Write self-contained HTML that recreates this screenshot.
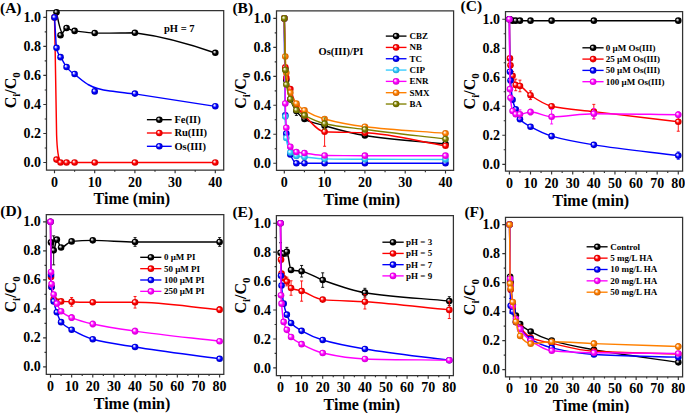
<!DOCTYPE html>
<html><head><meta charset="utf-8"><style>
html,body{margin:0;padding:0;background:#fff;width:685px;height:413px;overflow:hidden}
svg{display:block}
text{font-family:"Liberation Serif", serif;font-weight:bold;fill:#000}
.tl{font-size:14px}
.at{font-size:16px}
.sub{font-size:11px}
.pl{font-size:15.5px}
.lg{font-size:9px}
</style></head><body>
<svg width="685" height="413" viewBox="0 0 685 413">
<defs><radialGradient id="gk" cx="0.5" cy="0.5" r="0.5" fx="0.33" fy="0.32"><stop offset="0" stop-color="#d8d8d8"/><stop offset="0.15" stop-color="#d8d8d8"/><stop offset="0.55" stop-color="#000000"/><stop offset="1" stop-color="#000000"/></radialGradient><radialGradient id="gr" cx="0.5" cy="0.5" r="0.5" fx="0.33" fy="0.32"><stop offset="0" stop-color="#ffe0e0"/><stop offset="0.15" stop-color="#ffe0e0"/><stop offset="0.55" stop-color="#ff0000"/><stop offset="1" stop-color="#d00000"/></radialGradient><radialGradient id="gb" cx="0.5" cy="0.5" r="0.5" fx="0.33" fy="0.32"><stop offset="0" stop-color="#e0e0ff"/><stop offset="0.15" stop-color="#e0e0ff"/><stop offset="0.55" stop-color="#0000ff"/><stop offset="1" stop-color="#0000c0"/></radialGradient><radialGradient id="gc" cx="0.5" cy="0.5" r="0.5" fx="0.33" fy="0.32"><stop offset="0" stop-color="#e8f8ff"/><stop offset="0.15" stop-color="#e8f8ff"/><stop offset="0.55" stop-color="#33ccff"/><stop offset="1" stop-color="#20a0d0"/></radialGradient><radialGradient id="gm" cx="0.5" cy="0.5" r="0.5" fx="0.33" fy="0.32"><stop offset="0" stop-color="#ffe0ff"/><stop offset="0.15" stop-color="#ffe0ff"/><stop offset="0.55" stop-color="#ff00ff"/><stop offset="1" stop-color="#d000d0"/></radialGradient><radialGradient id="go" cx="0.5" cy="0.5" r="0.5" fx="0.33" fy="0.32"><stop offset="0" stop-color="#fff0e0"/><stop offset="0.15" stop-color="#fff0e0"/><stop offset="0.55" stop-color="#ff8000"/><stop offset="1" stop-color="#d06000"/></radialGradient><radialGradient id="gol" cx="0.5" cy="0.5" r="0.5" fx="0.33" fy="0.32"><stop offset="0" stop-color="#f0f0d0"/><stop offset="0.15" stop-color="#f0f0d0"/><stop offset="0.55" stop-color="#808000"/><stop offset="1" stop-color="#606000"/></radialGradient></defs>
<path d="M46.5,10.55H223.7V170H46.5Z" fill="none" stroke="#333" stroke-width="1.25"/>
<path d="M43.3,162.5H46.5M44.7,147.99H46.5M43.3,133.48H46.5M44.7,118.97H46.5M43.3,104.46H46.5M44.7,89.95H46.5M43.3,75.44H46.5M44.7,60.93H46.5M43.3,46.42H46.5M44.7,31.91H46.5M43.3,17.4H46.5M54.5,170V173.2M74.6,170V171.8M94.7,170V173.2M114.8,170V171.8M134.9,170V173.2M155,170V171.8M175.1,170V173.2M195.2,170V171.8M215.3,170V173.2" stroke="#333" stroke-width="1.15" fill="none"/>
<text x="41" y="167.1" text-anchor="end" class="tl">0.0</text>
<text x="41" y="138.08" text-anchor="end" class="tl">0.2</text>
<text x="41" y="109.06" text-anchor="end" class="tl">0.4</text>
<text x="41" y="80.04" text-anchor="end" class="tl">0.6</text>
<text x="41" y="51.02" text-anchor="end" class="tl">0.8</text>
<text x="41" y="22" text-anchor="end" class="tl">1.0</text>
<text x="54.5" y="186.6" text-anchor="middle" class="tl">0</text>
<text x="94.7" y="186.6" text-anchor="middle" class="tl">10</text>
<text x="134.9" y="186.6" text-anchor="middle" class="tl">20</text>
<text x="175.1" y="186.6" text-anchor="middle" class="tl">30</text>
<text x="215.3" y="186.6" text-anchor="middle" class="tl">40</text>
<text x="131.9" y="203.9" text-anchor="middle" class="at">Time (min)</text>
<text transform="translate(16.3,90.28) rotate(-90)" text-anchor="middle" class="at">C<tspan class="sub" dy="3.5">i</tspan><tspan dy="-3.5">/C</tspan><tspan class="sub" dy="3.5">0</tspan></text>
<text x="0" y="13" class="pl">(A)</text>
<path d="M276.5,10.9H453.6V170.4H276.5Z" fill="none" stroke="#333" stroke-width="1.25"/>
<path d="M273.3,163.2H276.5M274.7,148.72H276.5M273.3,134.24H276.5M274.7,119.76H276.5M273.3,105.28H276.5M274.7,90.8H276.5M273.3,76.32H276.5M274.7,61.84H276.5M273.3,47.36H276.5M274.7,32.88H276.5M273.3,18.4H276.5M284.3,170.4V173.6M304.45,170.4V172.2M324.6,170.4V173.6M344.75,170.4V172.2M364.9,170.4V173.6M385.05,170.4V172.2M405.2,170.4V173.6M425.35,170.4V172.2M445.5,170.4V173.6" stroke="#333" stroke-width="1.15" fill="none"/>
<text x="271" y="167.8" text-anchor="end" class="tl">0.0</text>
<text x="271" y="138.84" text-anchor="end" class="tl">0.2</text>
<text x="271" y="109.88" text-anchor="end" class="tl">0.4</text>
<text x="271" y="80.92" text-anchor="end" class="tl">0.6</text>
<text x="271" y="51.96" text-anchor="end" class="tl">0.8</text>
<text x="271" y="23" text-anchor="end" class="tl">1.0</text>
<text x="284.3" y="187" text-anchor="middle" class="tl">0</text>
<text x="324.6" y="187" text-anchor="middle" class="tl">10</text>
<text x="364.9" y="187" text-anchor="middle" class="tl">20</text>
<text x="405.2" y="187" text-anchor="middle" class="tl">30</text>
<text x="445.5" y="187" text-anchor="middle" class="tl">40</text>
<text x="361.9" y="205.1" text-anchor="middle" class="at">Time (min)</text>
<text transform="translate(246.3,90.65) rotate(-90)" text-anchor="middle" class="at">C<tspan class="sub" dy="3.5">i</tspan><tspan dy="-3.5">/C</tspan><tspan class="sub" dy="3.5">0</tspan></text>
<text x="232.4" y="13" class="pl">(B)</text>
<path d="M505.5,11.5H682.6V171.2H505.5Z" fill="none" stroke="#333" stroke-width="1.25"/>
<path d="M502.3,164.3H505.5M503.7,149.79H505.5M502.3,135.28H505.5M503.7,120.77H505.5M502.3,106.26H505.5M503.7,91.75H505.5M502.3,77.24H505.5M503.7,62.73H505.5M502.3,48.22H505.5M503.7,33.71H505.5M502.3,19.2H505.5M509.4,171.2V174.4M519.95,171.2V173M530.51,171.2V174.4M541.06,171.2V173M551.62,171.2V174.4M562.17,171.2V173M572.73,171.2V174.4M583.28,171.2V173M593.84,171.2V174.4M604.39,171.2V173M614.95,171.2V174.4M625.5,171.2V173M636.06,171.2V174.4M646.62,171.2V173M657.17,171.2V174.4M667.73,171.2V173M678.28,171.2V174.4" stroke="#333" stroke-width="1.15" fill="none"/>
<text x="500" y="168.9" text-anchor="end" class="tl">0.0</text>
<text x="500" y="139.88" text-anchor="end" class="tl">0.2</text>
<text x="500" y="110.86" text-anchor="end" class="tl">0.4</text>
<text x="500" y="81.84" text-anchor="end" class="tl">0.6</text>
<text x="500" y="52.82" text-anchor="end" class="tl">0.8</text>
<text x="500" y="23.8" text-anchor="end" class="tl">1.0</text>
<text x="509.4" y="187.8" text-anchor="middle" class="tl">0</text>
<text x="530.51" y="187.8" text-anchor="middle" class="tl">10</text>
<text x="551.62" y="187.8" text-anchor="middle" class="tl">20</text>
<text x="572.73" y="187.8" text-anchor="middle" class="tl">30</text>
<text x="593.84" y="187.8" text-anchor="middle" class="tl">40</text>
<text x="614.95" y="187.8" text-anchor="middle" class="tl">50</text>
<text x="636.06" y="187.8" text-anchor="middle" class="tl">60</text>
<text x="657.17" y="187.8" text-anchor="middle" class="tl">70</text>
<text x="678.28" y="187.8" text-anchor="middle" class="tl">80</text>
<text x="590.84" y="205.7" text-anchor="middle" class="at">Time (min)</text>
<text transform="translate(475.3,91.35) rotate(-90)" text-anchor="middle" class="at">C<tspan class="sub" dy="3.5">i</tspan><tspan dy="-3.5">/C</tspan><tspan class="sub" dy="3.5">0</tspan></text>
<text x="460.6" y="11.1" class="pl">(C)</text>
<path d="M46.3,214.5H223.8V374.3H46.3Z" fill="none" stroke="#333" stroke-width="1.25"/>
<path d="M43.1,366.8H46.3M44.5,352.3H46.3M43.1,337.8H46.3M44.5,323.3H46.3M43.1,308.8H46.3M44.5,294.3H46.3M43.1,279.8H46.3M44.5,265.3H46.3M43.1,250.8H46.3M44.5,236.3H46.3M43.1,221.8H46.3M50.5,374.3V377.5M61.07,374.3V376.1M71.64,374.3V377.5M82.21,374.3V376.1M92.78,374.3V377.5M103.35,374.3V376.1M113.92,374.3V377.5M124.49,374.3V376.1M135.06,374.3V377.5M145.63,374.3V376.1M156.2,374.3V377.5M166.77,374.3V376.1M177.34,374.3V377.5M187.91,374.3V376.1M198.48,374.3V377.5M209.05,374.3V376.1M219.62,374.3V377.5" stroke="#333" stroke-width="1.15" fill="none"/>
<text x="40.8" y="371.4" text-anchor="end" class="tl">0.0</text>
<text x="40.8" y="342.4" text-anchor="end" class="tl">0.2</text>
<text x="40.8" y="313.4" text-anchor="end" class="tl">0.4</text>
<text x="40.8" y="284.4" text-anchor="end" class="tl">0.6</text>
<text x="40.8" y="255.4" text-anchor="end" class="tl">0.8</text>
<text x="40.8" y="226.4" text-anchor="end" class="tl">1.0</text>
<text x="50.5" y="390.9" text-anchor="middle" class="tl">0</text>
<text x="71.64" y="390.9" text-anchor="middle" class="tl">10</text>
<text x="92.78" y="390.9" text-anchor="middle" class="tl">20</text>
<text x="113.92" y="390.9" text-anchor="middle" class="tl">30</text>
<text x="135.06" y="390.9" text-anchor="middle" class="tl">40</text>
<text x="156.2" y="390.9" text-anchor="middle" class="tl">50</text>
<text x="177.34" y="390.9" text-anchor="middle" class="tl">60</text>
<text x="198.48" y="390.9" text-anchor="middle" class="tl">70</text>
<text x="219.62" y="390.9" text-anchor="middle" class="tl">80</text>
<text x="132.06" y="408.7" text-anchor="middle" class="at">Time (min)</text>
<text transform="translate(16.1,294.4) rotate(-90)" text-anchor="middle" class="at">C<tspan class="sub" dy="3.5">i</tspan><tspan dy="-3.5">/C</tspan><tspan class="sub" dy="3.5">0</tspan></text>
<text x="0.3" y="215.8" class="pl">(D)</text>
<path d="M276.4,215.6H453.4V375.5H276.4Z" fill="none" stroke="#333" stroke-width="1.25"/>
<path d="M273.2,367.9H276.4M274.6,353.43H276.4M273.2,338.96H276.4M274.6,324.49H276.4M273.2,310.02H276.4M274.6,295.55H276.4M273.2,281.08H276.4M274.6,266.61H276.4M273.2,252.14H276.4M274.6,237.67H276.4M273.2,223.2H276.4M280.5,375.5V378.7M291.05,375.5V377.3M301.6,375.5V378.7M312.15,375.5V377.3M322.7,375.5V378.7M333.25,375.5V377.3M343.8,375.5V378.7M354.35,375.5V377.3M364.9,375.5V378.7M375.45,375.5V377.3M386,375.5V378.7M396.55,375.5V377.3M407.1,375.5V378.7M417.65,375.5V377.3M428.2,375.5V378.7M438.75,375.5V377.3M449.3,375.5V378.7" stroke="#333" stroke-width="1.15" fill="none"/>
<text x="270.9" y="372.5" text-anchor="end" class="tl">0.0</text>
<text x="270.9" y="343.56" text-anchor="end" class="tl">0.2</text>
<text x="270.9" y="314.62" text-anchor="end" class="tl">0.4</text>
<text x="270.9" y="285.68" text-anchor="end" class="tl">0.6</text>
<text x="270.9" y="256.74" text-anchor="end" class="tl">0.8</text>
<text x="270.9" y="227.8" text-anchor="end" class="tl">1.0</text>
<text x="280.5" y="392.1" text-anchor="middle" class="tl">0</text>
<text x="301.6" y="392.1" text-anchor="middle" class="tl">10</text>
<text x="322.7" y="392.1" text-anchor="middle" class="tl">20</text>
<text x="343.8" y="392.1" text-anchor="middle" class="tl">30</text>
<text x="364.9" y="392.1" text-anchor="middle" class="tl">40</text>
<text x="386" y="392.1" text-anchor="middle" class="tl">50</text>
<text x="407.1" y="392.1" text-anchor="middle" class="tl">60</text>
<text x="428.2" y="392.1" text-anchor="middle" class="tl">70</text>
<text x="449.3" y="392.1" text-anchor="middle" class="tl">80</text>
<text x="361.9" y="410.4" text-anchor="middle" class="at">Time (min)</text>
<text transform="translate(246.2,295.55) rotate(-90)" text-anchor="middle" class="at">C<tspan class="sub" dy="3.5">i</tspan><tspan dy="-3.5">/C</tspan><tspan class="sub" dy="3.5">0</tspan></text>
<text x="232.4" y="216.6" class="pl">(E)</text>
<path d="M505.5,217.4H682.6V376.8H505.5Z" fill="none" stroke="#333" stroke-width="1.25"/>
<path d="M502.3,369.6H505.5M503.7,355.1H505.5M502.3,340.6H505.5M503.7,326.1H505.5M502.3,311.6H505.5M503.7,297.1H505.5M502.3,282.6H505.5M503.7,268.1H505.5M502.3,253.6H505.5M503.7,239.1H505.5M502.3,224.6H505.5M509.6,376.8V380M520.14,376.8V378.6M530.69,376.8V380M541.24,376.8V378.6M551.78,376.8V380M562.33,376.8V378.6M572.87,376.8V380M583.41,376.8V378.6M593.96,376.8V380M604.5,376.8V378.6M615.05,376.8V380M625.6,376.8V378.6M636.14,376.8V380M646.69,376.8V378.6M657.23,376.8V380M667.78,376.8V378.6M678.32,376.8V380" stroke="#333" stroke-width="1.15" fill="none"/>
<text x="500" y="374.2" text-anchor="end" class="tl">0.0</text>
<text x="500" y="345.2" text-anchor="end" class="tl">0.2</text>
<text x="500" y="316.2" text-anchor="end" class="tl">0.4</text>
<text x="500" y="287.2" text-anchor="end" class="tl">0.6</text>
<text x="500" y="258.2" text-anchor="end" class="tl">0.8</text>
<text x="500" y="229.2" text-anchor="end" class="tl">1.0</text>
<text x="509.6" y="393.4" text-anchor="middle" class="tl">0</text>
<text x="530.69" y="393.4" text-anchor="middle" class="tl">10</text>
<text x="551.78" y="393.4" text-anchor="middle" class="tl">20</text>
<text x="572.87" y="393.4" text-anchor="middle" class="tl">30</text>
<text x="593.96" y="393.4" text-anchor="middle" class="tl">40</text>
<text x="615.05" y="393.4" text-anchor="middle" class="tl">50</text>
<text x="636.14" y="393.4" text-anchor="middle" class="tl">60</text>
<text x="657.23" y="393.4" text-anchor="middle" class="tl">70</text>
<text x="678.32" y="393.4" text-anchor="middle" class="tl">80</text>
<text x="590.96" y="410.7" text-anchor="middle" class="at">Time (min)</text>
<text transform="translate(475.3,297.1) rotate(-90)" text-anchor="middle" class="at">C<tspan class="sub" dy="3.5">i</tspan><tspan dy="-3.5">/C</tspan><tspan class="sub" dy="3.5">0</tspan></text>
<text x="464.4" y="216.6" class="pl">(F)</text>
<path d="M146.9,119.7H171.7" stroke="#000000" stroke-width="1.35"/>
<circle cx="159.3" cy="119.7" r="3.3" fill="url(#gk)"/>
<text x="174.4" y="123.17" style="font-size:10.5px" class="lg">Fe(II)</text>
<path d="M146.9,133H171.7" stroke="#ff0000" stroke-width="1.35"/>
<circle cx="159.3" cy="133" r="3.3" fill="url(#gr)"/>
<text x="174.4" y="136.47" style="font-size:10.5px" class="lg">Ru(III)</text>
<path d="M146.9,146.3H171.7" stroke="#0000ff" stroke-width="1.35"/>
<circle cx="159.3" cy="146.3" r="3.3" fill="url(#gb)"/>
<text x="174.4" y="149.77" style="font-size:10.5px" class="lg">Os(III)</text>
<path d="M385.8,36.1H406.5" stroke="#000000" stroke-width="1.35"/>
<circle cx="396.1" cy="36.1" r="3.3" fill="url(#gk)"/>
<text x="409.4" y="39.07" style="font-size:9px" class="lg">CBZ</text>
<path d="M385.8,47.42H406.5" stroke="#ff0000" stroke-width="1.35"/>
<circle cx="396.1" cy="47.42" r="3.3" fill="url(#gr)"/>
<text x="409.4" y="50.39" style="font-size:9px" class="lg">NB</text>
<path d="M385.8,58.74H406.5" stroke="#0000ff" stroke-width="1.35"/>
<circle cx="396.1" cy="58.74" r="3.3" fill="url(#gb)"/>
<text x="409.4" y="61.71" style="font-size:9px" class="lg">TC</text>
<path d="M385.8,70.06H406.5" stroke="#33ccff" stroke-width="1.35"/>
<circle cx="396.1" cy="70.06" r="3.3" fill="url(#gc)"/>
<text x="409.4" y="73.03" style="font-size:9px" class="lg">CIP</text>
<path d="M385.8,81.38H406.5" stroke="#ff00ff" stroke-width="1.35"/>
<circle cx="396.1" cy="81.38" r="3.3" fill="url(#gm)"/>
<text x="409.4" y="84.35" style="font-size:9px" class="lg">ENR</text>
<path d="M385.8,92.7H406.5" stroke="#ff8000" stroke-width="1.35"/>
<circle cx="396.1" cy="92.7" r="3.3" fill="url(#go)"/>
<text x="409.4" y="95.67" style="font-size:9px" class="lg">SMX</text>
<path d="M385.8,104.02H406.5" stroke="#808000" stroke-width="1.35"/>
<circle cx="396.1" cy="104.02" r="3.3" fill="url(#gol)"/>
<text x="409.4" y="106.99" style="font-size:9px" class="lg">BA</text>
<path d="M582.4,47.8H603.6" stroke="#000000" stroke-width="1.35"/>
<circle cx="593.1" cy="47.8" r="3.3" fill="url(#gk)"/>
<text x="605.8" y="50.77" style="font-size:9px" class="lg">0 µM Os(III)</text>
<path d="M582.4,59.1H603.6" stroke="#ff0000" stroke-width="1.35"/>
<circle cx="593.1" cy="59.1" r="3.3" fill="url(#gr)"/>
<text x="605.8" y="62.07" style="font-size:9px" class="lg">25 µM Os(III)</text>
<path d="M582.4,70.4H603.6" stroke="#0000ff" stroke-width="1.35"/>
<circle cx="593.1" cy="70.4" r="3.3" fill="url(#gb)"/>
<text x="605.8" y="73.37" style="font-size:9px" class="lg">50 µM Os(III)</text>
<path d="M582.4,81.7H603.6" stroke="#ff00ff" stroke-width="1.35"/>
<circle cx="593.1" cy="81.7" r="3.3" fill="url(#gm)"/>
<text x="605.8" y="84.67" style="font-size:9px" class="lg">100 µM Os(III)</text>
<path d="M140.2,257.3H161.4" stroke="#000000" stroke-width="1.35"/>
<circle cx="150.9" cy="257.3" r="3.3" fill="url(#gk)"/>
<text x="163.9" y="260.27" style="font-size:9px" class="lg">0 µM PI</text>
<path d="M140.2,268.65H161.4" stroke="#ff0000" stroke-width="1.35"/>
<circle cx="150.9" cy="268.65" r="3.3" fill="url(#gr)"/>
<text x="163.9" y="271.62" style="font-size:9px" class="lg">50 µM PI</text>
<path d="M140.2,280H161.4" stroke="#0000ff" stroke-width="1.35"/>
<circle cx="150.9" cy="280" r="3.3" fill="url(#gb)"/>
<text x="163.9" y="282.97" style="font-size:9px" class="lg">100 µM PI</text>
<path d="M140.2,291.35H161.4" stroke="#ff00ff" stroke-width="1.35"/>
<circle cx="150.9" cy="291.35" r="3.3" fill="url(#gm)"/>
<text x="163.9" y="294.32" style="font-size:9px" class="lg">250 µM PI</text>
<path d="M382.4,242.2H403.7" stroke="#000000" stroke-width="1.35"/>
<circle cx="393" cy="242.2" r="3.3" fill="url(#gk)"/>
<text x="406" y="245.17" style="font-size:9px" class="lg">pH = 3</text>
<path d="M382.4,253.43H403.7" stroke="#ff0000" stroke-width="1.35"/>
<circle cx="393" cy="253.43" r="3.3" fill="url(#gr)"/>
<text x="406" y="256.4" style="font-size:9px" class="lg">pH = 5</text>
<path d="M382.4,264.66H403.7" stroke="#0000ff" stroke-width="1.35"/>
<circle cx="393" cy="264.66" r="3.3" fill="url(#gb)"/>
<text x="406" y="267.63" style="font-size:9px" class="lg">pH = 7</text>
<path d="M382.4,275.89H403.7" stroke="#ff00ff" stroke-width="1.35"/>
<circle cx="393" cy="275.89" r="3.3" fill="url(#gm)"/>
<text x="406" y="278.86" style="font-size:9px" class="lg">pH = 9</text>
<path d="M586.6,246.8H607.6" stroke="#000000" stroke-width="1.35"/>
<circle cx="597.3" cy="246.8" r="3.3" fill="url(#gk)"/>
<text x="610.2" y="249.77" style="font-size:9px" class="lg">Control</text>
<path d="M586.6,258.15H607.6" stroke="#ff0000" stroke-width="1.35"/>
<circle cx="597.3" cy="258.15" r="3.3" fill="url(#gr)"/>
<text x="610.2" y="261.12" style="font-size:9px" class="lg">5 mg/L HA</text>
<path d="M586.6,269.5H607.6" stroke="#0000ff" stroke-width="1.35"/>
<circle cx="597.3" cy="269.5" r="3.3" fill="url(#gb)"/>
<text x="610.2" y="272.47" style="font-size:9px" class="lg">10 mg/L HA</text>
<path d="M586.6,280.85H607.6" stroke="#ff00ff" stroke-width="1.35"/>
<circle cx="597.3" cy="280.85" r="3.3" fill="url(#gm)"/>
<text x="610.2" y="283.82" style="font-size:9px" class="lg">20 mg/L HA</text>
<path d="M586.6,292.2H607.6" stroke="#ff8000" stroke-width="1.35"/>
<circle cx="597.3" cy="292.2" r="3.3" fill="url(#go)"/>
<text x="610.2" y="295.17" style="font-size:9px" class="lg">50 mg/L HA</text>
<text x="164" y="31.5" class="lg" style="font-size:10.5px">pH = 7</text>
<text x="318.5" y="55.1" class="lg" style="font-size:10.5px">Os(III)/PI</text>
<path d="M56.5,12.4C58.5,22 60,31 62,32.5C63.5,33.5 64.5,28.5 66.5,28C70,29 72,30.8 74.5,30.9C80,31.5 88,32.9 94.5,33.1C108,33.3 122,32.8 134.5,32.7C160,36 190,44 214.5,52.8" fill="none" stroke="#000000" stroke-width="1.45"/>
<circle cx="56.51" cy="12.32" r="3.3" fill="url(#gk)"/>
<circle cx="60.53" cy="35.25" r="3.3" fill="url(#gk)"/>
<circle cx="66.56" cy="27.99" r="3.3" fill="url(#gk)"/>
<circle cx="74.6" cy="30.89" r="3.3" fill="url(#gk)"/>
<circle cx="94.7" cy="33.07" r="3.3" fill="url(#gk)"/>
<circle cx="134.9" cy="32.78" r="3.3" fill="url(#gk)"/>
<circle cx="215.3" cy="52.8" r="3.3" fill="url(#gk)"/>
<path d="M54.5,17.4C55.5,60 56,110 56.6,135C57.1,150 58,158 60.5,162.4L215.3,162.4" fill="none" stroke="#ff0000" stroke-width="1.45"/>
<circle cx="54.5" cy="17.4" r="3.3" fill="url(#gr)"/>
<circle cx="56.51" cy="159.6" r="3.3" fill="url(#gr)"/>
<circle cx="60.53" cy="162.5" r="3.3" fill="url(#gr)"/>
<circle cx="66.56" cy="162.5" r="3.3" fill="url(#gr)"/>
<circle cx="74.6" cy="162.5" r="3.3" fill="url(#gr)"/>
<circle cx="94.7" cy="162.5" r="3.3" fill="url(#gr)"/>
<circle cx="134.9" cy="162.5" r="3.3" fill="url(#gr)"/>
<circle cx="215.3" cy="162.5" r="3.3" fill="url(#gr)"/>
<path d="M54.5,17.4L56.3,47.6C57.5,52 58.8,55.5 60.5,57.2C62.5,60 64.5,64 66.5,67.1C69,70 72,73 74.5,74C79,78 84,82 88,84.5C94,88 100,89.8 110,91C120,92.3 128,93 134.7,93.9L215.4,106.4" fill="none" stroke="#0000ff" stroke-width="1.45"/>
<circle cx="54.5" cy="17.4" r="3.3" fill="url(#gb)"/>
<circle cx="56.51" cy="47.87" r="3.3" fill="url(#gb)"/>
<circle cx="60.53" cy="57.16" r="3.3" fill="url(#gb)"/>
<circle cx="66.56" cy="67.02" r="3.3" fill="url(#gb)"/>
<circle cx="74.6" cy="73.99" r="3.3" fill="url(#gb)"/>
<circle cx="94.7" cy="91.4" r="3.3" fill="url(#gb)"/>
<circle cx="134.9" cy="93.58" r="3.3" fill="url(#gb)"/>
<circle cx="215.3" cy="106.2" r="3.3" fill="url(#gb)"/>
<path d="M284.3,18.4C284.64,35.29 284.97,63.12 285.31,69.08C285.64,75.04 285.98,77.51 286.31,79.94C287.66,89.67 289,95.69 290.35,99.49C292.36,105.19 294.38,108.4 296.39,111.07C299.08,114.63 301.76,117.6 304.45,119.04C311.17,122.62 317.88,123.78 324.6,125.7C338.03,129.54 351.47,133.47 364.9,135.54C391.77,139.7 418.63,141.24 445.5,144.09" fill="none" stroke="#000000" stroke-width="1.45"/>
<path d="M296.39,106.73V115.42M294.89,106.73H297.89M294.89,115.42H297.89" fill="none" stroke="#000000" stroke-width="0.9"/>
<circle cx="284.3" cy="18.4" r="3.3" fill="url(#gk)"/>
<circle cx="285.31" cy="69.08" r="3.3" fill="url(#gk)"/>
<circle cx="286.31" cy="79.94" r="3.3" fill="url(#gk)"/>
<circle cx="290.35" cy="99.49" r="3.3" fill="url(#gk)"/>
<circle cx="296.39" cy="111.07" r="3.3" fill="url(#gk)"/>
<circle cx="304.45" cy="119.04" r="3.3" fill="url(#gk)"/>
<circle cx="324.6" cy="125.7" r="3.3" fill="url(#gk)"/>
<circle cx="364.9" cy="135.54" r="3.3" fill="url(#gk)"/>
<circle cx="445.5" cy="144.09" r="3.3" fill="url(#gk)"/>
<path d="M284.3,18.4C284.64,34.71 284.97,61.61 285.31,67.34C285.64,73.07 285.98,76.09 286.31,77.77C287.66,84.46 289,85.37 290.35,89.06C292.36,94.59 294.38,101.77 296.39,105.28C299.08,109.96 301.76,112.68 304.45,115.42C311.17,122.25 317.88,131.41 324.6,131.78C338.03,132.51 351.47,132.25 364.9,132.79C391.77,133.87 418.63,141.38 445.5,145.68" fill="none" stroke="#ff0000" stroke-width="1.45"/>
<path d="M324.6,117.3V146.26M323.1,117.3H326.1M323.1,146.26H326.1" fill="none" stroke="#ff0000" stroke-width="0.9"/>
<circle cx="284.3" cy="18.4" r="3.3" fill="url(#gr)"/>
<circle cx="285.31" cy="67.34" r="3.3" fill="url(#gr)"/>
<circle cx="286.31" cy="77.77" r="3.3" fill="url(#gr)"/>
<circle cx="290.35" cy="89.06" r="3.3" fill="url(#gr)"/>
<circle cx="296.39" cy="105.28" r="3.3" fill="url(#gr)"/>
<circle cx="304.45" cy="115.42" r="3.3" fill="url(#gr)"/>
<circle cx="324.6" cy="131.78" r="3.3" fill="url(#gr)"/>
<circle cx="364.9" cy="132.79" r="3.3" fill="url(#gr)"/>
<circle cx="445.5" cy="145.68" r="3.3" fill="url(#gr)"/>
<path d="M284.3,18.4C284.64,50.74 284.97,105.18 285.31,115.42C285.64,125.65 285.98,130.62 286.31,133.66C287.66,145.82 289,151.37 290.35,154.51C292.36,159.22 294.38,163.2 296.39,163.2C299.08,163.2 301.76,163.2 304.45,163.2C311.17,163.2 317.88,163.2 324.6,163.2C338.03,163.2 351.47,163.2 364.9,163.2C391.77,163.2 418.63,163.2 445.5,163.2" fill="none" stroke="#0000ff" stroke-width="1.45"/>
<circle cx="284.3" cy="18.4" r="3.3" fill="url(#gb)"/>
<circle cx="285.31" cy="115.42" r="3.3" fill="url(#gb)"/>
<circle cx="286.31" cy="133.66" r="3.3" fill="url(#gb)"/>
<circle cx="290.35" cy="154.51" r="3.3" fill="url(#gb)"/>
<circle cx="296.39" cy="163.2" r="3.3" fill="url(#gb)"/>
<circle cx="304.45" cy="163.2" r="3.3" fill="url(#gb)"/>
<circle cx="324.6" cy="163.2" r="3.3" fill="url(#gb)"/>
<circle cx="364.9" cy="163.2" r="3.3" fill="url(#gb)"/>
<circle cx="445.5" cy="163.2" r="3.3" fill="url(#gb)"/>
<path d="M284.3,18.4C284.64,51.12 284.97,104.85 285.31,116.57C285.64,128.3 285.98,135.6 286.31,138C287.66,147.63 289,151.09 290.35,152.48C292.36,154.58 294.38,155.53 296.39,155.96C299.08,156.53 301.76,156.68 304.45,156.97C311.17,157.71 317.88,158.71 324.6,158.86C338.03,159.14 351.47,159.25 364.9,159.29C391.77,159.38 418.63,159.39 445.5,159.44" fill="none" stroke="#33ccff" stroke-width="1.45"/>
<circle cx="284.3" cy="18.4" r="3.3" fill="url(#gc)"/>
<circle cx="285.31" cy="116.57" r="3.3" fill="url(#gc)"/>
<circle cx="286.31" cy="138" r="3.3" fill="url(#gc)"/>
<circle cx="290.35" cy="152.48" r="3.3" fill="url(#gc)"/>
<circle cx="296.39" cy="155.96" r="3.3" fill="url(#gc)"/>
<circle cx="304.45" cy="156.97" r="3.3" fill="url(#gc)"/>
<circle cx="324.6" cy="158.86" r="3.3" fill="url(#gc)"/>
<circle cx="364.9" cy="159.29" r="3.3" fill="url(#gc)"/>
<circle cx="445.5" cy="159.44" r="3.3" fill="url(#gc)"/>
<path d="M284.3,18.4C284.64,46.78 284.97,90.99 285.31,103.54C285.64,116.1 285.98,124.67 286.31,127.72C287.66,139.94 289,144.59 290.35,146.69C292.36,149.84 294.38,151.59 296.39,152.05C299.08,152.66 301.76,152.73 304.45,153.06C311.17,153.9 317.88,155.47 324.6,155.53C338.03,155.63 351.47,155.67 364.9,155.67C391.77,155.67 418.63,155.67 445.5,155.67" fill="none" stroke="#ff00ff" stroke-width="1.45"/>
<circle cx="284.3" cy="18.4" r="3.3" fill="url(#gm)"/>
<circle cx="285.31" cy="103.54" r="3.3" fill="url(#gm)"/>
<circle cx="286.31" cy="127.72" r="3.3" fill="url(#gm)"/>
<circle cx="290.35" cy="146.69" r="3.3" fill="url(#gm)"/>
<circle cx="296.39" cy="152.05" r="3.3" fill="url(#gm)"/>
<circle cx="304.45" cy="153.06" r="3.3" fill="url(#gm)"/>
<circle cx="324.6" cy="155.53" r="3.3" fill="url(#gm)"/>
<circle cx="364.9" cy="155.67" r="3.3" fill="url(#gm)"/>
<circle cx="445.5" cy="155.67" r="3.3" fill="url(#gm)"/>
<path d="M284.3,18.4C284.64,31.09 284.97,48.9 285.31,56.48C285.64,64.07 285.98,69.85 286.31,72.7C287.66,84.09 289,89.03 290.35,92.68C292.36,98.17 294.38,101.19 296.39,103.54C299.08,106.68 301.76,108.74 304.45,110.35C311.17,114.37 317.88,117.18 324.6,119.04C338.03,122.74 351.47,125.09 364.9,126.71C391.77,129.95 418.63,131.15 445.5,133.37" fill="none" stroke="#ff8000" stroke-width="1.45"/>
<circle cx="284.3" cy="18.4" r="3.3" fill="url(#go)"/>
<circle cx="285.31" cy="56.48" r="3.3" fill="url(#go)"/>
<circle cx="286.31" cy="72.7" r="3.3" fill="url(#go)"/>
<circle cx="290.35" cy="92.68" r="3.3" fill="url(#go)"/>
<circle cx="296.39" cy="103.54" r="3.3" fill="url(#go)"/>
<circle cx="304.45" cy="110.35" r="3.3" fill="url(#go)"/>
<circle cx="324.6" cy="119.04" r="3.3" fill="url(#go)"/>
<circle cx="364.9" cy="126.71" r="3.3" fill="url(#go)"/>
<circle cx="445.5" cy="133.37" r="3.3" fill="url(#go)"/>
<path d="M284.3,18.4C284.64,35.58 284.97,62.35 285.31,69.95C285.64,77.54 285.98,82.37 286.31,84.57C287.66,93.37 289,95.73 290.35,99.05C292.36,104.03 294.38,108.05 296.39,110.06C299.08,112.73 301.76,114.01 304.45,115.42C311.17,118.94 317.88,122.16 324.6,123.67C338.03,126.69 351.47,127.7 364.9,129.46C391.77,132.99 418.63,135.83 445.5,139.02" fill="none" stroke="#808000" stroke-width="1.45"/>
<path d="M324.6,117.88V129.46M323.1,117.88H326.1M323.1,129.46H326.1" fill="none" stroke="#808000" stroke-width="0.9"/>
<circle cx="284.3" cy="18.4" r="3.3" fill="url(#gol)"/>
<circle cx="285.31" cy="69.95" r="3.3" fill="url(#gol)"/>
<circle cx="286.31" cy="84.57" r="3.3" fill="url(#gol)"/>
<circle cx="290.35" cy="99.05" r="3.3" fill="url(#gol)"/>
<circle cx="296.39" cy="110.06" r="3.3" fill="url(#gol)"/>
<circle cx="304.45" cy="115.42" r="3.3" fill="url(#gol)"/>
<circle cx="324.6" cy="123.67" r="3.3" fill="url(#gol)"/>
<circle cx="364.9" cy="129.46" r="3.3" fill="url(#gol)"/>
<circle cx="445.5" cy="139.02" r="3.3" fill="url(#gol)"/>
<path d="M509.4,19.2C509.58,19.2 509.75,19.2 509.93,19.2C510.1,19.2 510.28,19.82 510.46,19.93C511.16,20.37 511.86,20.65 512.57,20.65C513.62,20.65 514.68,20.65 515.73,20.65C517.14,20.65 518.55,20.65 519.95,20.65C523.47,20.65 526.99,20.65 530.51,20.65C537.55,20.65 544.58,20.65 551.62,20.65C565.69,20.65 579.77,20.65 593.84,20.65C621.99,20.65 650.13,20.65 678.28,20.65" fill="none" stroke="#000000" stroke-width="1.45"/>
<circle cx="509.4" cy="19.2" r="3.3" fill="url(#gk)"/>
<circle cx="509.93" cy="19.2" r="3.3" fill="url(#gk)"/>
<circle cx="510.46" cy="19.93" r="3.3" fill="url(#gk)"/>
<circle cx="512.57" cy="20.65" r="3.3" fill="url(#gk)"/>
<circle cx="515.73" cy="20.65" r="3.3" fill="url(#gk)"/>
<circle cx="519.95" cy="20.65" r="3.3" fill="url(#gk)"/>
<circle cx="530.51" cy="20.65" r="3.3" fill="url(#gk)"/>
<circle cx="551.62" cy="20.65" r="3.3" fill="url(#gk)"/>
<circle cx="593.84" cy="20.65" r="3.3" fill="url(#gk)"/>
<circle cx="678.28" cy="20.65" r="3.3" fill="url(#gk)"/>
<path d="M509.4,19.2C509.58,32.26 509.75,54.43 509.93,58.38C510.1,62.32 510.28,63.95 510.46,65.34C511.16,70.91 511.86,73.18 512.57,75.79C513.62,79.71 514.68,84.44 515.73,84.93C517.14,85.58 518.55,85.45 519.95,85.95C523.47,87.18 526.99,92.86 530.51,95.23C537.55,99.98 544.58,104.72 551.62,106.26C565.69,109.35 579.77,109.88 593.84,111.63C621.99,115.12 650.13,118.4 678.28,121.79" fill="none" stroke="#ff0000" stroke-width="1.45"/>
<path d="M512.57,71.44V80.14M511.07,71.44H514.07M511.07,80.14H514.07M515.73,79.13V90.73M514.23,79.13H517.23M514.23,90.73H517.23M519.95,80.14V91.75M518.45,80.14H521.45M518.45,91.75H521.45M530.51,90.88V99.59M529.01,90.88H532.01M529.01,99.59H532.01M593.84,104.37V118.88M592.34,104.37H595.34M592.34,118.88H595.34M678.28,112.35V131.22M676.78,112.35H679.78M676.78,131.22H679.78" fill="none" stroke="#ff0000" stroke-width="0.9"/>
<circle cx="509.4" cy="19.2" r="3.3" fill="url(#gr)"/>
<circle cx="509.93" cy="58.38" r="3.3" fill="url(#gr)"/>
<circle cx="510.46" cy="65.34" r="3.3" fill="url(#gr)"/>
<circle cx="512.57" cy="75.79" r="3.3" fill="url(#gr)"/>
<circle cx="515.73" cy="84.93" r="3.3" fill="url(#gr)"/>
<circle cx="519.95" cy="85.95" r="3.3" fill="url(#gr)"/>
<circle cx="530.51" cy="95.23" r="3.3" fill="url(#gr)"/>
<circle cx="551.62" cy="106.26" r="3.3" fill="url(#gr)"/>
<circle cx="593.84" cy="111.63" r="3.3" fill="url(#gr)"/>
<circle cx="678.28" cy="121.79" r="3.3" fill="url(#gr)"/>
<path d="M509.4,19.2C509.58,36.71 509.75,66.75 509.93,71.73C510.1,76.7 510.28,78.24 510.46,80.43C511.16,89.21 511.86,96.42 512.57,99.73C513.62,104.69 514.68,106.48 515.73,109.31C517.14,113.07 518.55,117.67 519.95,119.32C523.47,123.45 526.99,124.75 530.51,126.72C537.55,130.66 544.58,134.08 551.62,136.15C565.69,140.29 579.77,142.58 593.84,144.86C621.99,149.4 650.13,152.01 678.28,155.59" fill="none" stroke="#0000ff" stroke-width="1.45"/>
<path d="M678.28,151.97V159.22M676.78,151.97H679.78M676.78,159.22H679.78" fill="none" stroke="#0000ff" stroke-width="0.9"/>
<circle cx="509.4" cy="19.2" r="3.3" fill="url(#gb)"/>
<circle cx="509.93" cy="71.73" r="3.3" fill="url(#gb)"/>
<circle cx="510.46" cy="80.43" r="3.3" fill="url(#gb)"/>
<circle cx="512.57" cy="99.73" r="3.3" fill="url(#gb)"/>
<circle cx="515.73" cy="109.31" r="3.3" fill="url(#gb)"/>
<circle cx="519.95" cy="119.32" r="3.3" fill="url(#gb)"/>
<circle cx="530.51" cy="126.72" r="3.3" fill="url(#gb)"/>
<circle cx="551.62" cy="136.15" r="3.3" fill="url(#gb)"/>
<circle cx="593.84" cy="144.86" r="3.3" fill="url(#gb)"/>
<circle cx="678.28" cy="155.59" r="3.3" fill="url(#gb)"/>
<path d="M509.4,19.2C509.58,42.51 509.75,83.98 509.93,89.14C510.1,94.3 510.28,96.09 510.46,97.84C511.16,104.86 511.86,109.76 512.57,111.05C513.62,112.97 514.68,114.24 515.73,114.24C517.14,114.24 518.55,114.24 519.95,114.24C523.47,114.24 526.99,112.06 530.51,112.06C537.55,112.06 544.58,116.71 551.62,116.71C565.69,116.71 579.77,113.66 593.84,113.66C621.99,113.66 650.13,114.34 678.28,114.68" fill="none" stroke="#ff00ff" stroke-width="1.45"/>
<path d="M519.95,109.89V118.59M518.45,109.89H521.45M518.45,118.59H521.45M530.51,109.16V114.97M529.01,109.16H532.01M529.01,114.97H532.01M551.62,109.45V123.96M550.12,109.45H553.12M550.12,123.96H553.12M593.84,108.58V118.74M592.34,108.58H595.34M592.34,118.74H595.34M678.28,111.77V117.58M676.78,111.77H679.78M676.78,117.58H679.78" fill="none" stroke="#ff00ff" stroke-width="0.9"/>
<circle cx="509.4" cy="19.2" r="3.3" fill="url(#gm)"/>
<circle cx="509.93" cy="89.14" r="3.3" fill="url(#gm)"/>
<circle cx="510.46" cy="97.84" r="3.3" fill="url(#gm)"/>
<circle cx="512.57" cy="111.05" r="3.3" fill="url(#gm)"/>
<circle cx="515.73" cy="114.24" r="3.3" fill="url(#gm)"/>
<circle cx="519.95" cy="114.24" r="3.3" fill="url(#gm)"/>
<circle cx="530.51" cy="112.06" r="3.3" fill="url(#gm)"/>
<circle cx="551.62" cy="116.71" r="3.3" fill="url(#gm)"/>
<circle cx="593.84" cy="113.66" r="3.3" fill="url(#gm)"/>
<circle cx="678.28" cy="114.68" r="3.3" fill="url(#gm)"/>
<path d="M51.03,242.39C51.91,245.05 52.79,250.37 53.67,250.37C54.73,250.37 55.78,239.63 56.84,239.63C58.25,239.63 59.66,247.47 61.07,247.47C64.59,247.47 68.12,241.72 71.64,241.38C78.69,240.69 85.73,240.36 92.78,240.36C106.87,240.36 120.97,241.96 135.06,241.96C163.25,241.96 191.43,241.96 219.62,241.96" fill="none" stroke="#000000" stroke-width="1.45"/>
<path d="M53.67,235.87V264.87M52.17,235.87H55.17M52.17,264.87H55.17M135.06,237.61V246.31M133.56,237.61H136.56M133.56,246.31H136.56M219.62,237.61V246.31M218.12,237.61H221.12M218.12,246.31H221.12" fill="none" stroke="#000000" stroke-width="0.9"/>
<circle cx="51.03" cy="242.39" r="3.3" fill="url(#gk)"/>
<circle cx="53.67" cy="250.37" r="3.3" fill="url(#gk)"/>
<circle cx="56.84" cy="239.63" r="3.3" fill="url(#gk)"/>
<circle cx="61.07" cy="247.47" r="3.3" fill="url(#gk)"/>
<circle cx="71.64" cy="241.38" r="3.3" fill="url(#gk)"/>
<circle cx="92.78" cy="240.36" r="3.3" fill="url(#gk)"/>
<circle cx="135.06" cy="241.96" r="3.3" fill="url(#gk)"/>
<circle cx="219.62" cy="241.96" r="3.3" fill="url(#gk)"/>
<path d="M50.5,221.8C50.68,240.22 50.85,271.4 51.03,277.05C51.2,282.69 51.38,285.31 51.56,287.05C52.26,294.02 52.97,298.27 53.67,299.23C54.73,300.68 55.78,301.55 56.84,301.55C58.25,301.55 59.66,301.41 61.07,301.41C64.59,301.41 68.12,301.74 71.64,301.84C78.69,302.04 85.73,302.27 92.78,302.27C106.87,302.27 120.97,302.27 135.06,302.27C163.25,302.27 191.43,307.2 219.62,309.67" fill="none" stroke="#ff0000" stroke-width="1.45"/>
<path d="M71.64,297.49V306.19M70.14,297.49H73.14M70.14,306.19H73.14M135.06,296.47V308.07M133.56,296.47H136.56M133.56,308.07H136.56M219.62,306.77V312.57M218.12,306.77H221.12M218.12,312.57H221.12" fill="none" stroke="#ff0000" stroke-width="0.9"/>
<circle cx="50.5" cy="221.8" r="3.3" fill="url(#gr)"/>
<circle cx="51.03" cy="277.05" r="3.3" fill="url(#gr)"/>
<circle cx="51.56" cy="287.05" r="3.3" fill="url(#gr)"/>
<circle cx="53.67" cy="299.23" r="3.3" fill="url(#gr)"/>
<circle cx="56.84" cy="301.55" r="3.3" fill="url(#gr)"/>
<circle cx="61.07" cy="301.41" r="3.3" fill="url(#gr)"/>
<circle cx="71.64" cy="301.84" r="3.3" fill="url(#gr)"/>
<circle cx="92.78" cy="302.27" r="3.3" fill="url(#gr)"/>
<circle cx="135.06" cy="302.27" r="3.3" fill="url(#gr)"/>
<circle cx="219.62" cy="309.67" r="3.3" fill="url(#gr)"/>
<path d="M50.5,221.8C50.68,239.44 50.85,268.06 51.03,274.73C51.2,281.39 51.38,284.97 51.56,287.05C52.26,295.38 52.97,298.12 53.67,301.41C54.73,306.33 55.78,309.32 56.84,312.28C58.25,316.23 59.66,320.47 61.07,322.14C64.59,326.31 68.12,327.68 71.64,329.68C78.69,333.68 85.73,337.33 92.78,339.25C106.87,343.09 120.97,344.67 135.06,346.94C163.25,351.47 191.43,354.86 219.62,358.82" fill="none" stroke="#0000ff" stroke-width="1.45"/>
<circle cx="50.5" cy="221.8" r="3.3" fill="url(#gb)"/>
<circle cx="51.03" cy="274.73" r="3.3" fill="url(#gb)"/>
<circle cx="51.56" cy="287.05" r="3.3" fill="url(#gb)"/>
<circle cx="53.67" cy="301.41" r="3.3" fill="url(#gb)"/>
<circle cx="56.84" cy="312.28" r="3.3" fill="url(#gb)"/>
<circle cx="61.07" cy="322.14" r="3.3" fill="url(#gb)"/>
<circle cx="71.64" cy="329.68" r="3.3" fill="url(#gb)"/>
<circle cx="92.78" cy="339.25" r="3.3" fill="url(#gb)"/>
<circle cx="135.06" cy="346.94" r="3.3" fill="url(#gb)"/>
<circle cx="219.62" cy="358.82" r="3.3" fill="url(#gb)"/>
<path d="M50.5,221.8C50.68,238.52 50.85,265.5 51.03,271.97C51.2,278.44 51.38,282.36 51.56,284C52.26,290.57 52.97,291.83 53.67,294.44C54.73,298.36 55.78,301.2 56.84,303.58C58.25,306.76 59.66,309.89 61.07,311.26C64.59,314.7 68.12,316.17 71.64,317.64C78.69,320.59 85.73,322.45 92.78,324.03C106.87,327.17 120.97,329.12 135.06,331.13C163.25,335.15 191.43,337.9 219.62,341.28" fill="none" stroke="#ff00ff" stroke-width="1.45"/>
<path d="M71.64,314.75V320.54M70.14,314.75H73.14M70.14,320.54H73.14M92.78,321.13V326.93M91.28,321.13H94.28M91.28,326.93H94.28M135.06,328.23V334.03M133.56,328.23H136.56M133.56,334.03H136.56" fill="none" stroke="#ff00ff" stroke-width="0.9"/>
<circle cx="50.5" cy="221.8" r="3.3" fill="url(#gm)"/>
<circle cx="51.03" cy="271.97" r="3.3" fill="url(#gm)"/>
<circle cx="51.56" cy="284" r="3.3" fill="url(#gm)"/>
<circle cx="53.67" cy="294.44" r="3.3" fill="url(#gm)"/>
<circle cx="56.84" cy="303.58" r="3.3" fill="url(#gm)"/>
<circle cx="61.07" cy="311.26" r="3.3" fill="url(#gm)"/>
<circle cx="71.64" cy="317.64" r="3.3" fill="url(#gm)"/>
<circle cx="92.78" cy="324.03" r="3.3" fill="url(#gm)"/>
<circle cx="135.06" cy="331.13" r="3.3" fill="url(#gm)"/>
<circle cx="219.62" cy="341.28" r="3.3" fill="url(#gm)"/>
<path d="M280.5,252.86C281.56,253.1 282.61,253.59 283.67,253.59C284.72,253.59 285.77,251.71 286.83,251.71C288.24,251.71 289.64,269.55 291.05,269.94C294.57,270.91 298.08,270.61 301.6,271.24C308.63,272.5 315.67,277.57 322.7,280.07C336.77,285.06 350.83,290.43 364.9,292.66C393.03,297.1 421.17,298.25 449.3,301.05" fill="none" stroke="#000000" stroke-width="1.45"/>
<path d="M280.5,242.73V262.99M279,242.73H282M279,262.99H282M286.83,247.36V256.05M285.33,247.36H288.33M285.33,256.05H288.33M301.6,265.45V277.03M300.1,265.45H303.1M300.1,277.03H303.1M322.7,272.83V287.3M321.2,272.83H324.2M321.2,287.3H324.2M364.9,288.31V297M363.4,288.31H366.4M363.4,297H366.4M449.3,296.71V305.39M447.8,296.71H450.8M447.8,305.39H450.8" fill="none" stroke="#000000" stroke-width="0.9"/>
<circle cx="280.5" cy="252.86" r="3.3" fill="url(#gk)"/>
<circle cx="283.67" cy="253.59" r="3.3" fill="url(#gk)"/>
<circle cx="286.83" cy="251.71" r="3.3" fill="url(#gk)"/>
<circle cx="291.05" cy="269.94" r="3.3" fill="url(#gk)"/>
<circle cx="301.6" cy="271.24" r="3.3" fill="url(#gk)"/>
<circle cx="322.7" cy="280.07" r="3.3" fill="url(#gk)"/>
<circle cx="364.9" cy="292.66" r="3.3" fill="url(#gk)"/>
<circle cx="449.3" cy="301.05" r="3.3" fill="url(#gk)"/>
<path d="M280.5,223.2C280.68,235.35 280.85,252.96 281.03,259.66C281.2,266.37 281.38,272.7 281.56,273.56C282.26,276.99 282.96,277.16 283.67,278.19C284.72,279.72 285.77,280.21 286.83,281.51C288.24,283.26 289.64,287.27 291.05,288.03C294.57,289.92 298.08,289.9 301.6,291.06C308.63,293.39 315.67,298.9 322.7,299.6C336.77,301.01 350.83,300.86 364.9,301.77C393.03,303.6 421.17,307.17 449.3,309.88" fill="none" stroke="#ff0000" stroke-width="1.45"/>
<path d="M286.83,277.17V285.86M285.33,277.17H288.33M285.33,285.86H288.33M291.05,280.79V295.26M289.55,280.79H292.55M289.55,295.26H292.55M301.6,280.94V301.19M300.1,280.94H303.1M300.1,301.19H303.1M364.9,294.54V309.01M363.4,294.54H366.4M363.4,309.01H366.4M449.3,301.19V318.56M447.8,301.19H450.8M447.8,318.56H450.8" fill="none" stroke="#ff0000" stroke-width="0.9"/>
<circle cx="280.5" cy="223.2" r="3.3" fill="url(#gr)"/>
<circle cx="281.03" cy="259.66" r="3.3" fill="url(#gr)"/>
<circle cx="281.56" cy="273.56" r="3.3" fill="url(#gr)"/>
<circle cx="283.67" cy="278.19" r="3.3" fill="url(#gr)"/>
<circle cx="286.83" cy="281.51" r="3.3" fill="url(#gr)"/>
<circle cx="291.05" cy="288.03" r="3.3" fill="url(#gr)"/>
<circle cx="301.6" cy="291.06" r="3.3" fill="url(#gr)"/>
<circle cx="322.7" cy="299.6" r="3.3" fill="url(#gr)"/>
<circle cx="364.9" cy="301.77" r="3.3" fill="url(#gr)"/>
<circle cx="449.3" cy="309.88" r="3.3" fill="url(#gr)"/>
<path d="M280.5,223.2C280.68,240.76 280.85,270.41 281.03,275.87C281.2,281.33 281.38,283.35 281.56,285.57C282.26,294.43 282.96,300.07 283.67,303.65C284.72,309.02 285.77,311.95 286.83,314.65C288.24,318.26 289.64,321.42 291.05,323.04C294.57,327.1 298.08,328.88 301.6,330.86C308.63,334.81 315.67,337.89 322.7,339.97C336.77,344.14 350.83,346.57 364.9,348.94C393.03,353.68 421.17,356.47 449.3,360.23" fill="none" stroke="#0000ff" stroke-width="1.45"/>
<circle cx="280.5" cy="223.2" r="3.3" fill="url(#gb)"/>
<circle cx="281.03" cy="275.87" r="3.3" fill="url(#gb)"/>
<circle cx="281.56" cy="285.57" r="3.3" fill="url(#gb)"/>
<circle cx="283.67" cy="303.65" r="3.3" fill="url(#gb)"/>
<circle cx="286.83" cy="314.65" r="3.3" fill="url(#gb)"/>
<circle cx="291.05" cy="323.04" r="3.3" fill="url(#gb)"/>
<circle cx="301.6" cy="330.86" r="3.3" fill="url(#gb)"/>
<circle cx="322.7" cy="339.97" r="3.3" fill="url(#gb)"/>
<circle cx="364.9" cy="348.94" r="3.3" fill="url(#gb)"/>
<circle cx="449.3" cy="360.23" r="3.3" fill="url(#gb)"/>
<path d="M280.5,223.2C280.68,247.22 280.85,290.25 281.03,295.26C281.2,300.27 281.38,301.56 281.56,303.65C282.26,312.03 282.96,319.04 283.67,321.89C284.72,326.15 285.77,327.7 286.83,329.84C288.24,332.7 289.64,335.48 291.05,336.93C294.57,340.58 298.08,342.29 301.6,344.17C308.63,347.93 315.67,351.43 322.7,353C336.77,356.13 350.83,358.5 364.9,358.93C393.03,359.79 421.17,359.8 449.3,360.23" fill="none" stroke="#ff00ff" stroke-width="1.45"/>
<circle cx="280.5" cy="223.2" r="3.3" fill="url(#gm)"/>
<circle cx="281.03" cy="295.26" r="3.3" fill="url(#gm)"/>
<circle cx="281.56" cy="303.65" r="3.3" fill="url(#gm)"/>
<circle cx="283.67" cy="321.89" r="3.3" fill="url(#gm)"/>
<circle cx="286.83" cy="329.84" r="3.3" fill="url(#gm)"/>
<circle cx="291.05" cy="336.93" r="3.3" fill="url(#gm)"/>
<circle cx="301.6" cy="344.17" r="3.3" fill="url(#gm)"/>
<circle cx="322.7" cy="353" r="3.3" fill="url(#gm)"/>
<circle cx="364.9" cy="358.93" r="3.3" fill="url(#gm)"/>
<circle cx="449.3" cy="360.23" r="3.3" fill="url(#gm)"/>
<path d="M509.6,224.6C509.78,242 509.95,273.32 510.13,276.8C510.3,280.28 510.48,280.72 510.65,282.6C511.36,290.13 512.06,300.53 512.76,304.35C513.82,310.08 514.87,312.79 515.93,315.52C517.33,319.15 518.74,322.32 520.14,323.93C523.66,327.94 527.18,329.66 530.69,331.61C537.72,335.5 544.75,338.5 551.78,340.6C565.84,344.79 579.9,347.2 593.96,349.74C622.08,354.81 650.2,358.15 678.32,362.35" fill="none" stroke="#000000" stroke-width="1.45"/>
<circle cx="509.6" cy="224.6" r="3.3" fill="url(#gk)"/>
<circle cx="510.13" cy="276.8" r="3.3" fill="url(#gk)"/>
<circle cx="510.65" cy="282.6" r="3.3" fill="url(#gk)"/>
<circle cx="512.76" cy="304.35" r="3.3" fill="url(#gk)"/>
<circle cx="515.93" cy="315.52" r="3.3" fill="url(#gk)"/>
<circle cx="520.14" cy="323.93" r="3.3" fill="url(#gk)"/>
<circle cx="530.69" cy="331.61" r="3.3" fill="url(#gk)"/>
<circle cx="551.78" cy="340.6" r="3.3" fill="url(#gk)"/>
<circle cx="593.96" cy="349.74" r="3.3" fill="url(#gk)"/>
<circle cx="678.32" cy="362.35" r="3.3" fill="url(#gk)"/>
<path d="M509.6,224.6C509.78,243.93 509.95,278.3 510.13,282.6C510.3,286.9 510.48,287.86 510.65,289.85C511.36,297.8 512.06,304.52 512.76,308.7C513.82,314.98 514.87,320.25 515.93,322.33C517.33,325.11 518.74,326 520.14,327.55C523.66,331.43 527.18,336.13 530.69,337.7C537.72,340.85 544.75,341.77 551.78,343.36C565.84,346.53 579.9,350.52 593.96,351.33C622.08,352.96 650.2,353.07 678.32,353.94" fill="none" stroke="#ff0000" stroke-width="1.45"/>
<circle cx="509.6" cy="224.6" r="3.3" fill="url(#gr)"/>
<circle cx="510.13" cy="282.6" r="3.3" fill="url(#gr)"/>
<circle cx="510.65" cy="289.85" r="3.3" fill="url(#gr)"/>
<circle cx="512.76" cy="308.7" r="3.3" fill="url(#gr)"/>
<circle cx="515.93" cy="322.33" r="3.3" fill="url(#gr)"/>
<circle cx="520.14" cy="327.55" r="3.3" fill="url(#gr)"/>
<circle cx="530.69" cy="337.7" r="3.3" fill="url(#gr)"/>
<circle cx="551.78" cy="343.36" r="3.3" fill="url(#gr)"/>
<circle cx="593.96" cy="351.33" r="3.3" fill="url(#gr)"/>
<circle cx="678.32" cy="353.94" r="3.3" fill="url(#gr)"/>
<path d="M509.6,224.6C509.78,242.97 509.95,267.89 510.13,279.7C510.3,291.51 510.48,304.68 510.65,305.8C511.36,310.26 512.06,309.53 512.76,311.6C513.82,314.71 514.87,319.36 515.93,321.75C517.33,324.94 518.74,327.19 520.14,329C523.66,333.52 527.18,337.03 530.69,339.15C537.72,343.4 544.75,346.16 551.78,347.85C565.84,351.23 579.9,353.73 593.96,354.52C622.08,356.09 650.2,356.26 678.32,357.13" fill="none" stroke="#0000ff" stroke-width="1.45"/>
<path d="M510.65,298.55V313.05M509.15,298.55H512.15M509.15,313.05H512.15" fill="none" stroke="#0000ff" stroke-width="0.9"/>
<circle cx="509.6" cy="224.6" r="3.3" fill="url(#gb)"/>
<circle cx="510.13" cy="279.7" r="3.3" fill="url(#gb)"/>
<circle cx="510.65" cy="305.8" r="3.3" fill="url(#gb)"/>
<circle cx="512.76" cy="311.6" r="3.3" fill="url(#gb)"/>
<circle cx="515.93" cy="321.75" r="3.3" fill="url(#gb)"/>
<circle cx="520.14" cy="329" r="3.3" fill="url(#gb)"/>
<circle cx="530.69" cy="339.15" r="3.3" fill="url(#gb)"/>
<circle cx="551.78" cy="347.85" r="3.3" fill="url(#gb)"/>
<circle cx="593.96" cy="354.52" r="3.3" fill="url(#gb)"/>
<circle cx="678.32" cy="357.13" r="3.3" fill="url(#gb)"/>
<path d="M509.6,224.6C509.78,242.63 509.95,274.65 510.13,278.69C510.3,282.72 510.48,283.5 510.65,285.5C511.36,293.49 512.06,301.63 512.76,305.8C513.82,312.06 514.87,315.6 515.93,318.85C517.33,323.18 518.74,326.76 520.14,329C523.66,334.61 527.18,338.14 530.69,340.6C537.72,345.52 544.75,350.07 551.78,350.75C565.84,352.1 579.9,352.56 593.96,352.78C622.08,353.22 650.2,353.26 678.32,353.5" fill="none" stroke="#ff00ff" stroke-width="1.45"/>
<circle cx="509.6" cy="224.6" r="3.3" fill="url(#gm)"/>
<circle cx="510.13" cy="278.69" r="3.3" fill="url(#gm)"/>
<circle cx="510.65" cy="285.5" r="3.3" fill="url(#gm)"/>
<circle cx="512.76" cy="305.8" r="3.3" fill="url(#gm)"/>
<circle cx="515.93" cy="318.85" r="3.3" fill="url(#gm)"/>
<circle cx="520.14" cy="329" r="3.3" fill="url(#gm)"/>
<circle cx="530.69" cy="340.6" r="3.3" fill="url(#gm)"/>
<circle cx="551.78" cy="350.75" r="3.3" fill="url(#gm)"/>
<circle cx="593.96" cy="352.78" r="3.3" fill="url(#gm)"/>
<circle cx="678.32" cy="353.5" r="3.3" fill="url(#gm)"/>
<path d="M509.6,224.6C509.78,244.27 509.95,280.66 510.13,283.62C510.3,286.57 510.48,287.03 510.65,288.4C511.36,293.89 512.06,297.56 512.76,302.03C513.82,308.73 514.87,317.07 515.93,321.75C517.33,327.99 518.74,334.1 520.14,335.96C523.66,340.6 527.18,343.65 530.69,343.65C537.72,343.65 544.75,341.76 551.78,341.76C565.84,341.76 579.9,343.09 593.96,343.65C622.08,344.75 650.2,345.58 678.32,346.55" fill="none" stroke="#ff8000" stroke-width="1.45"/>
<path d="M593.96,340.75V346.55M592.46,340.75H595.46M592.46,346.55H595.46M678.32,343.65V349.44M676.82,343.65H679.82M676.82,349.44H679.82" fill="none" stroke="#ff8000" stroke-width="0.9"/>
<circle cx="509.6" cy="224.6" r="3.3" fill="url(#go)"/>
<circle cx="510.13" cy="283.62" r="3.3" fill="url(#go)"/>
<circle cx="510.65" cy="288.4" r="3.3" fill="url(#go)"/>
<circle cx="512.76" cy="302.03" r="3.3" fill="url(#go)"/>
<circle cx="515.93" cy="321.75" r="3.3" fill="url(#go)"/>
<circle cx="520.14" cy="335.96" r="3.3" fill="url(#go)"/>
<circle cx="530.69" cy="343.65" r="3.3" fill="url(#go)"/>
<circle cx="551.78" cy="341.76" r="3.3" fill="url(#go)"/>
<circle cx="593.96" cy="343.65" r="3.3" fill="url(#go)"/>
<circle cx="678.32" cy="346.55" r="3.3" fill="url(#go)"/>
</svg>
</body></html>
